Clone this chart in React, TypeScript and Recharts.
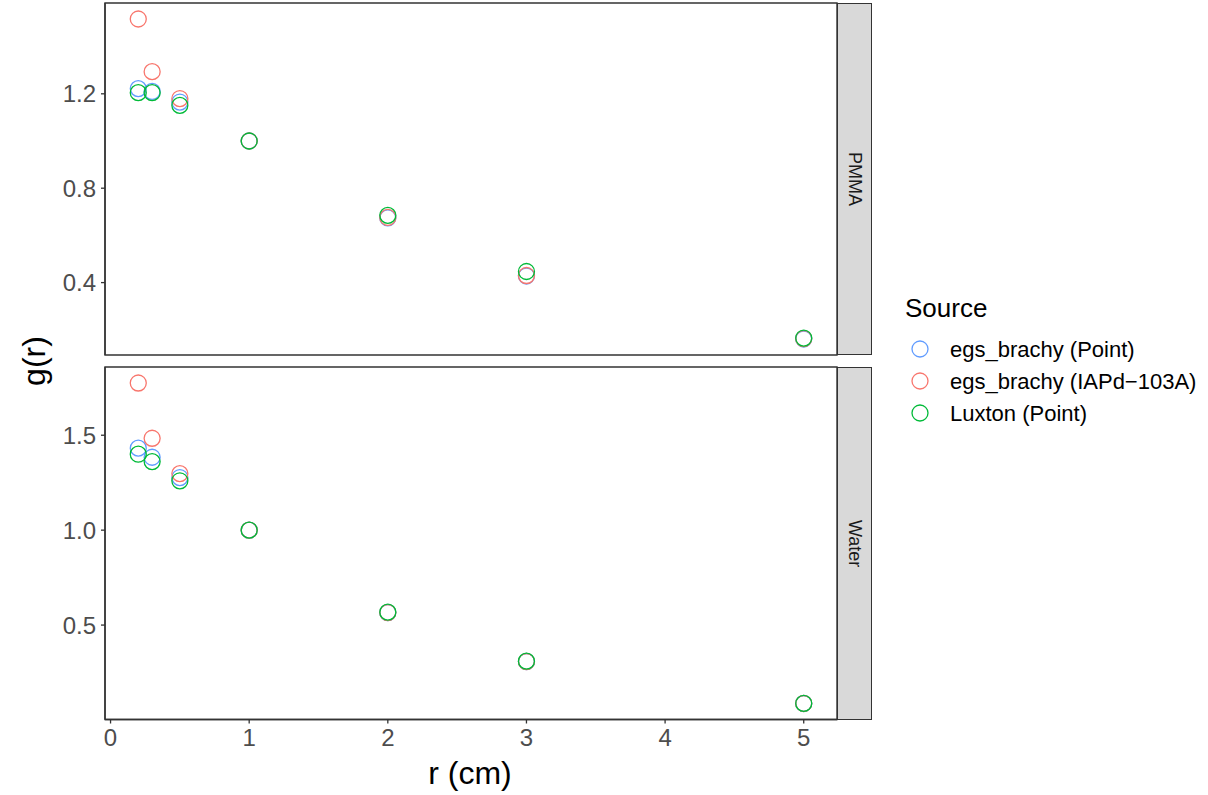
import { ScatterChart, Scatter, XAxis, YAxis, ReferenceArea } from 'recharts'

// radial distance r (cm), shared by every source
const radii = [0.2, 0.3, 0.5, 1, 2, 3, 5]

// g(r) in PMMA
const pmmaEgsPoint = [1.222, 1.21, 1.165, 1.0, 0.674, 0.428, 0.161]
const pmmaEgsIapd = [1.517, 1.294, 1.18, 1.0, 0.676, 0.43, 0.163]
const pmmaLuxton = [1.205, 1.205, 1.151, 1.0, 0.685, 0.447, 0.165]

// g(r) in water
const waterEgsPoint = [1.432, 1.384, 1.277, 1.0, 0.566, 0.308, 0.087]
const waterEgsIapd = [1.775, 1.484, 1.298, 1.0, 0.566, 0.308, 0.087]
const waterLuxton = [1.4, 1.361, 1.26, 1.0, 0.568, 0.31, 0.0875]

const sourceNames = ['egs_brachy (Point)', 'egs_brachy (IAPd\u2212103A)', 'Luxton (Point)']
const sourceColors = ['#619CFF', '#F8766D', '#00BA38']

const xTicks = [0, 1, 2, 3, 4, 5]
const pmmaTicks = [0.4, 0.8, 1.2]
const waterTicks = [0.5, 1.0, 1.5]

const FONT = '"Liberation Sans", Arial, Helvetica, sans-serif'
const INK = '#333333'

// ggplot-style 5% expansion of a data range
function expand(values: number[]): [number, number] {
  const lo = Math.min(...values)
  const hi = Math.max(...values)
  const pad = (hi - lo) * 0.05
  return [lo - pad, hi + pad]
}

const xDomain = expand(radii)

const toPoints = (ys: number[]) => radii.map((r, i) => ({ r, g: ys[i] }))

const ring = (color: string) => (props: any) => {
  const { cx, cy } = props
  if (cx == null || cy == null) return <g />
  return <circle cx={cx} cy={cy} r={8} fill="none" stroke={color} strokeWidth={1.3} />
}

interface PanelProps {
  series: number[][]
  ticks: number[]
  top: number
  height: number
  marginTop: number
  marginBottom: number
  showX: boolean
  label: string
  fmt: (v: number) => string
}

function Panel({ series, ticks, top, height, marginTop, marginBottom, showX, label, fmt }: PanelProps) {
  const yDomain = expand(series.flat())
  const plotH = height - marginTop - marginBottom - (showX ? 40 : 0)
  return (
    <>
      <div style={{ position: 'absolute', left: 0, top }}>
        <ScatterChart
          width={880}
          height={height}
          margin={{ top: marginTop, right: 43, bottom: marginBottom, left: 45 }}
        >
          <XAxis
            type="number"
            dataKey="r"
            domain={xDomain}
            ticks={xTicks}
            allowDataOverflow
            hide={!showX}
            height={40}
            tickSize={4}
            tickMargin={5}
            tick={{ fill: '#4D4D4D', fontSize: 24, fontFamily: FONT }}
            tickLine={{ stroke: INK, strokeWidth: 1.3 }}
            axisLine={{ stroke: INK, strokeWidth: 1.4 }}
          />
          <YAxis
            type="number"
            dataKey="g"
            domain={yDomain}
            ticks={ticks}
            allowDataOverflow
            width={60}
            tickSize={4}
            tickMargin={5}
            tickFormatter={fmt}
            tick={{ fill: '#4D4D4D', fontSize: 24, fontFamily: FONT }}
            tickLine={{ stroke: INK, strokeWidth: 1.3 }}
            axisLine={{ stroke: INK, strokeWidth: 1.4 }}
          />
          {series.map((ys, i) => (
            <Scatter
              key={sourceNames[i]}
              name={sourceNames[i]}
              data={toPoints(ys)}
              shape={ring(sourceColors[i])}
              isAnimationActive={false}
            />
          ))}
          <ReferenceArea
            x1={xDomain[0]}
            x2={xDomain[1]}
            y1={yDomain[0]}
            y2={yDomain[1]}
            ifOverflow="visible"
            fill="none"
            stroke={INK}
            strokeWidth={1.4}
          />
        </ScatterChart>
      </div>
      {/* facet strip on the right of the panel */}
      <div
        style={{
          position: 'absolute',
          left: 837,
          top: top + marginTop,
          width: 35,
          height: plotH,
          boxSizing: 'border-box',
          background: '#D9D9D9',
          border: `1.4px solid ${INK}`,
          display: 'flex',
          alignItems: 'center',
          justifyContent: 'center',
        }}
      >
        <span style={{ writingMode: 'vertical-rl', fontFamily: FONT, fontSize: 18, color: '#1A1A1A' }}>
          {label}
        </span>
      </div>
    </>
  )
}

export default function App() {
  return (
    <div
      style={{
        position: 'absolute',
        left: 0,
        top: 0,
        width: 1208,
        height: 795,
        background: '#fff',
        fontFamily: FONT,
        overflow: 'hidden',
      }}
    >
      <Panel
        series={[pmmaEgsPoint, pmmaEgsIapd, pmmaLuxton]}
        ticks={pmmaTicks}
        top={0}
        height={362}
        marginTop={3}
        marginBottom={7}
        showX={false}
        label="PMMA"
        fmt={(v) => v.toFixed(1)}
      />
      <Panel
        series={[waterEgsPoint, waterEgsIapd, waterLuxton]}
        ticks={waterTicks}
        top={360}
        height={435}
        marginTop={7}
        marginBottom={35.5}
        showX
        label="Water"
        fmt={(v) => v.toFixed(1)}
      />

      {/* axis titles and legend */}
      <svg
        width={1208}
        height={795}
        style={{ position: 'absolute', left: 0, top: 0, pointerEvents: 'none' }}
        fontFamily={FONT}
      >
        <text x={470} y={784} textAnchor="middle" fontSize={32} fill="#000">
          r (cm)
        </text>
        <text transform="translate(45,361) rotate(-90)" textAnchor="middle" fontSize={32} fill="#000">
          g(r)
        </text>
        <text x={905} y={317} fontSize={26} fill="#000">
          Source
        </text>
        {sourceNames.map((name, i) => (
          <g key={name}>
            <circle cx={920} cy={349 + i * 32} r={8} fill="none" stroke={sourceColors[i]} strokeWidth={1.3} />
            <text x={950} y={349 + i * 32} dy="0.35em" fontSize={22} fill="#000">
              {name}
            </text>
          </g>
        ))}
      </svg>
    </div>
  )
}
